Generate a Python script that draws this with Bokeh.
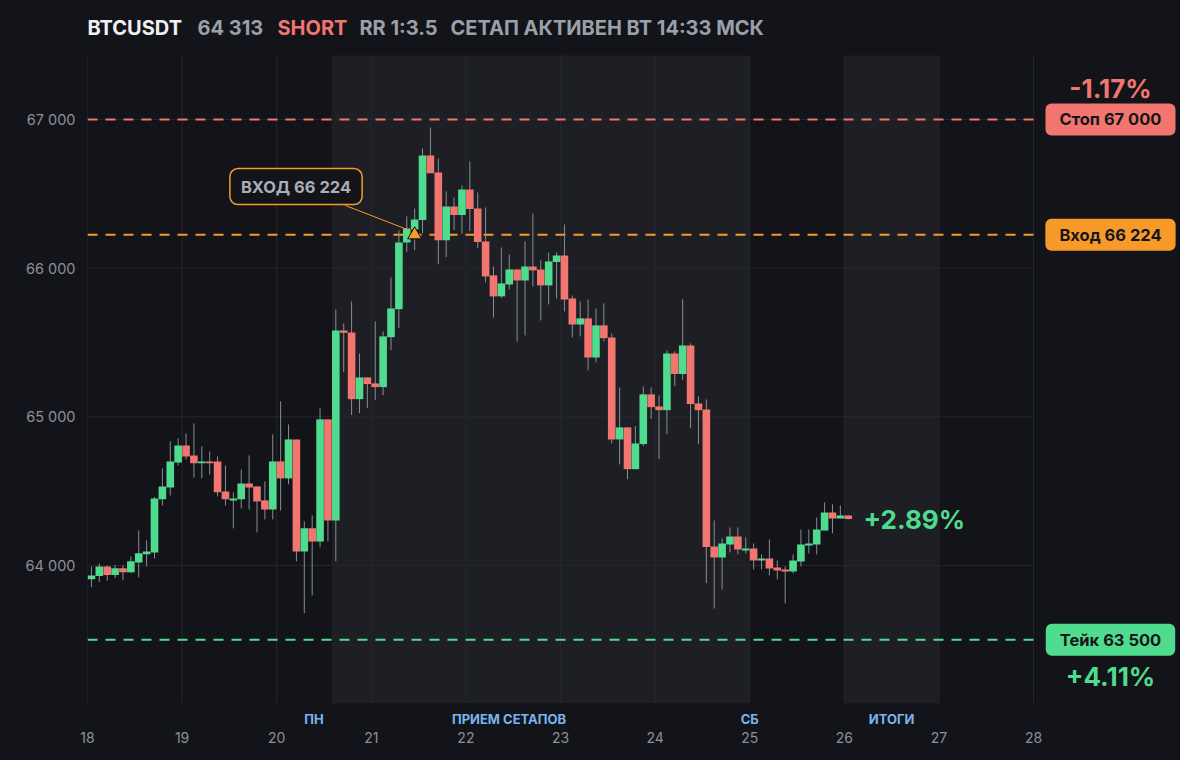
from bokeh.plotting import figure
from bokeh.models import ColumnDataSource, Label, FixedTicker, LinearAxis
from bokeh.embed import file_html
from bokeh.resources import INLINE

# ---------------- data ----------------
start_day = 18          # first candle opens at day 18, 00:00
candle_hours = 2        # 2-hour candles

opens = [63907, 63929, 63994, 63936, 63981, 63954, 64021, 64075, 64088, 64445,
         64525, 64693, 64808, 64740, 64687, 64700, 64700, 64498, 64438, 64445,
         64552, 64532, 64438, 64377, 64700, 64586, 64848, 64095, 64250, 64162,
         64983, 64303, 65581, 65567, 65119, 65265, 65225, 65200, 65536, 65724,
         66173, 66260, 66323, 66758, 66643, 66188, 66415, 66357, 66529, 66401,
         66180, 65951, 65810, 65890, 65991, 65917, 66011, 65991, 65884, 66041,
         66085, 65796, 65621, 65662, 65399, 65615, 65534, 64848, 64929, 64648,
         64817, 65151, 65070, 65045, 65426, 65288, 65480, 65090, 65050, 64128,
         64054, 64142, 64195, 64101, 64115, 64034, 64047, 63987, 63974, 63960,
         64027, 64135, 64142, 64236, 64357, 64317, 64337]
highs = [63994, 64014, 64000, 64003, 64003, 64061, 64236, 64169, 64460, 64653,
         64835, 64855, 64888, 64956, 64801, 64767, 64734, 64673, 64492, 64646,
         64740, 64532, 64566, 64882, 65104, 64949, 64848, 64297, 64337, 65057,
         64983, 65722, 65628, 65776, 65426, 65265, 65642, 65574, 65937, 66254,
         66348, 66401, 66805, 66946, 66738, 66516, 66475, 66556, 66718, 66509,
         66408, 66011, 66139, 66092, 65991, 66180, 66368, 66052, 66105, 66105,
         66294, 65816, 65776, 65789, 65729, 65763, 65561, 65198, 64929, 64938,
         65204, 65198, 65144, 65447, 65440, 65790, 65494, 65137, 65117, 64303,
         64182, 64256, 64256, 64189, 64148, 64075, 64175, 64034, 63994, 64075,
         64242, 64242, 64323, 64424, 64411, 64404, 64337]
lows = [63855, 63889, 63898, 63916, 63900, 63950, 63920, 63994, 64048, 64404,
        64471, 64673, 64714, 64592, 64586, 64613, 64465, 64404, 64250, 64384,
        64377, 64223, 64310, 64310, 64370, 64546, 64028, 63680, 63799, 64122,
        64162, 64028, 65301, 65012, 65025, 65059, 65113, 65146, 65449, 65597,
        66108, 66121, 66236, 66639, 66027, 66074, 66256, 66230, 66249, 66135,
        65904, 65668, 65800, 65857, 65507, 65547, 65877, 65648, 65756, 65796,
        65709, 65534, 65541, 65312, 65366, 65507, 64821, 64680, 64581, 64648,
        64803, 64985, 64716, 64884, 65207, 65247, 64924, 64817, 63882, 63711,
        63839, 64088, 64075, 64081, 63974, 63974, 63933, 63906, 63745, 63947,
        63994, 64081, 64075, 64236, 64216, 64317, 64310]
closes = [63933, 63994, 63936, 63981, 63954, 64028, 64082, 64095, 64451, 64532,
          64700, 64808, 64734, 64687, 64700, 64687, 64492, 64445, 64451, 64552,
          64525, 64431, 64377, 64700, 64586, 64848, 64095, 64250, 64162, 64983,
          64303, 65581, 65565, 65119, 65265, 65220, 65200, 65541, 65729, 66173,
          66267, 66327, 66758, 66639, 66188, 66415, 66357, 66529, 66397, 66175,
          65944, 65810, 65897, 65991, 65917, 66011, 65985, 65884, 66045, 66085,
          65789, 65621, 65662, 65399, 65615, 65529, 64848, 64929, 64648, 64821,
          65151, 65065, 65045, 65426, 65288, 65480, 65086, 65045, 64124, 64054,
          64148, 64195, 64108, 64115, 64034, 64047, 63980, 63967, 63960, 64034,
          64142, 64148, 64243, 64357, 64317, 64337, 64313]

symbol = "BTCUSDT"
last_price = "64 313"
side = "SHORT"
rr_text = "RR 1:3.5"
status_text = "СЕТАП АКТИВЕН ВТ 14:33 МСК"

stop_price = 67000
entry_price = 66224
take_price = 63500
entry_candle = 41
stop_pct = "-1.17%"
take_pct = "+4.11%"
current_pct = "+2.89%"

day_ticks = list(range(18, 29))
price_ticks = [64000, 65000, 66000, 67000]
price_tick_labels = ["64 000", "65 000", "66 000", "67 000"]

band_starts = [20.583, 26.0]
band_ends = [25.0, 27.0]
section_names = ["ПН", "ПРИЕМ СЕТАПОВ", "СБ", "ИТОГИ"]
section_pos = [20.395, 22.456, 25.0, 26.5]

# ---------------- style ----------------
BG = "#131419"
BAND = "#1e1f25"
GRID = "#25272e"
GREEN = "#4fdc8e"
RED = "#f2756f"
ORANGE = "#f79a2a"
GRAY = "#9aa0aa"
TICK = "#8b909a"
WICK = "#8a8d95"
FONT = "Inter"

# chart area (prices / days); the frame extends further to hold header and tags
chart_lo, chart_hi = 63072, 67430
day_lo, day_hi = 18, 28
frame_top = 67800
frame_right = 29.554

p = figure(width=1180, height=760, x_range=(day_lo, frame_right),
           y_range=(chart_lo, frame_top),
           output_backend="svg", toolbar_location=None,
           background_fill_color=BG, border_fill_color=BG,
           x_axis_location=None,
           min_border_left=87, min_border_right=0,
           min_border_top=0, min_border_bottom=57)
p.outline_line_color = None
p.xgrid.visible = False
p.ygrid.visible = False

# axes
sec_axis = LinearAxis(ticker=FixedTicker(ticks=section_pos),
                      major_label_overrides={k: v for k, v in zip(section_pos, section_names)})
day_axis = LinearAxis(ticker=FixedTicker(ticks=day_ticks))
p.add_layout(sec_axis, "below")
p.add_layout(day_axis, "below")
p.yaxis.ticker = FixedTicker(ticks=price_ticks)
p.yaxis.major_label_overrides = {t: l for t, l in zip(price_ticks, price_tick_labels)}
for ax in (sec_axis, day_axis, p.yaxis[0]):
    ax.axis_line_color = None
    ax.major_tick_line_color = None
    ax.minor_tick_line_color = None
    ax.major_tick_out = 0
    ax.major_tick_in = 0
    ax.major_label_text_color = TICK
    ax.major_label_text_font = FONT
    ax.major_label_text_font_size = "14px"
p.yaxis.major_label_text_font_size = "14.5px"
sec_axis.major_label_text_color = "#7ab4ef"
sec_axis.major_label_text_font_style = "bold"
sec_axis.major_label_text_font_size = "13px"
sec_axis.major_label_standoff = 7
day_axis.major_label_standoff = 2
p.yaxis.major_label_standoff = 12

# shaded bands
p.quad(left=band_starts, right=band_ends, top=[chart_hi] * 2, bottom=[chart_lo] * 2,
       fill_color=BAND, line_color=None)

# grid lines limited to chart area
p.segment(x0=day_ticks, y0=[chart_lo] * len(day_ticks), x1=day_ticks,
          y1=[chart_hi] * len(day_ticks), line_color=GRID, line_width=1)
p.segment(x0=[day_lo] * len(price_ticks), y0=price_ticks, x1=[day_hi] * len(price_ticks),
          y1=price_ticks, line_color=GRID, line_width=1)

# level lines
for price, col in ((stop_price, RED), (entry_price, ORANGE), (take_price, GREEN)):
    p.segment(x0=[day_lo], y0=[price], x1=[day_hi], y1=[price], line_color=col,
              line_width=2, line_dash="10 8")

# candles
n = len(opens)
xs = [start_day + (i + 0.5) * candle_hours / 24 for i in range(n)]
src = ColumnDataSource(dict(
    x=xs, o=opens, h=highs, l=lows, c=closes,
    top=[max(o, c) for o, c in zip(opens, closes)],
    bottom=[min(o, c) for o, c in zip(opens, closes)],
    color=[GREEN if c >= o else RED for o, c in zip(opens, closes)],
))
p.segment(x0="x", y0="l", x1="x", y1="h", source=src, line_color=WICK, line_width=1)
p.vbar(x="x", width=candle_hours / 24 * 0.965, top="top", bottom="bottom", source=src,
       fill_color="color", line_color=None)

# entry marker + callout
ex = xs[entry_candle]
p.line(x=[20.727, ex - 0.05], y=[66421, 66253], line_color=ORANGE, line_width=1)
p.scatter(x=[ex], y=[entry_price], marker="triangle", size=14,
          fill_color=ORANGE, line_color="#0b0b0d", line_width=1)
p.add_layout(Label(x=20.204, y=66549, text="ВХОД " + "66 224",
                   text_align="center", text_baseline="middle",
                   text_color="#a9aeb8", text_font=FONT, text_font_size="16.5px",
                   text_font_style="bold",
                   background_fill_color=BG, border_line_color=ORANGE,
                   border_line_width=1.5, border_radius=8, padding=(11, 8)))

# header
hy = 67612
for xpos, txt, col in ((18.0, symbol, "#f0f0f2"), (19.163, last_price, GRAY),
                       (20.008, side, RED), (20.875, rr_text, GRAY),
                       (21.837, status_text, GRAY)):
    p.add_layout(Label(x=xpos, y=hy, text=txt, text_align="left",
                       text_baseline="middle", text_color=col, text_font=FONT,
                       text_font_size="20px", text_font_style="bold"))

# right side price tags
rx = 28.814
for price, txt, col in ((stop_price, "Стоп 67 000", RED),
                        (entry_price, "Вход 66 224", ORANGE),
                        (take_price, "Тейк 63 500", GREEN)):
    p.add_layout(Label(x=rx, y=price, text=txt, text_align="center",
                       text_baseline="middle", text_color="#15161a", text_font=FONT,
                       text_font_size="16.5px", text_font_style="bold",
                       background_fill_color=col,
                       border_radius=6, padding=(14, 6)))

p.add_layout(Label(x=rx, y=67208, text=stop_pct, text_align="center",
                   text_baseline="middle", text_color=RED, text_font=FONT,
                   text_font_size="26px", text_font_style="bold"))
p.add_layout(Label(x=rx, y=63251, text=take_pct, text_align="center",
                   text_baseline="middle", text_color=GREEN, text_font=FONT,
                   text_font_size="26px", text_font_style="bold"))
p.add_layout(Label(x=26.203, y=64310, text=current_pct, text_align="left",
                   text_baseline="middle", text_color=GREEN, text_font=FONT,
                   text_font_size="26px", text_font_style="bold"))

html = file_html(p, INLINE)
html = html.replace("</head>", "<style>html,body{background:%s;}</style></head>" % BG, 1)
open("out.html", "w").write(html)
